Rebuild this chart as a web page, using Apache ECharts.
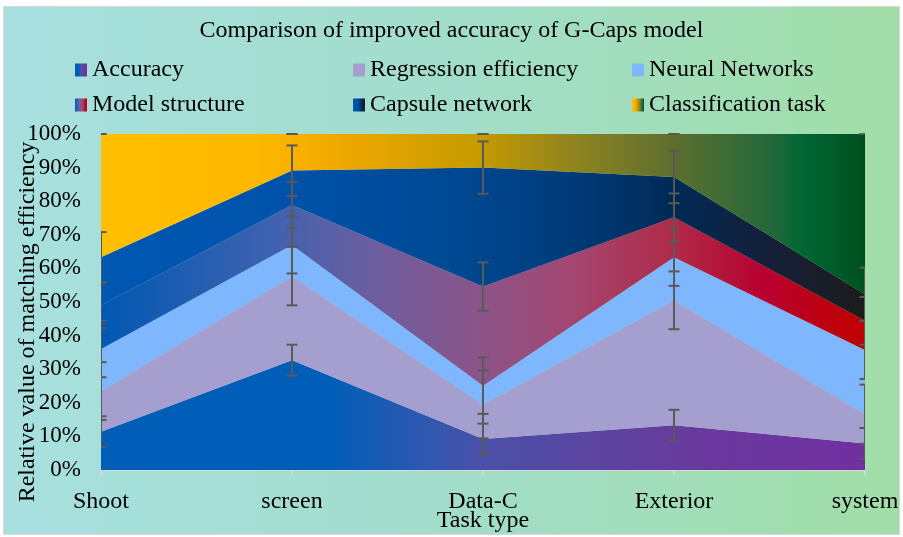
<!DOCTYPE html>
<html>
<head>
<meta charset="utf-8">
<script src="https://cdn.jsdelivr.net/npm/echarts@6/dist/echarts.min.js"></script>
<style>
  html, body { margin: 0; padding: 0; background: #fff; }
  #chart {
    position: absolute; left: 3px; top: 6px; width: 897px; height: 529px;
    border: 1px solid #d9d9d9; box-sizing: border-box;
    background: linear-gradient(90deg, #a7e0df 0%, #a2ddcb 50%, #a1dea7 100%);
  }
</style>
</head>
<body>
<div id="chart"></div>
<script>
// categories and stacked shares (%)
var categories = ['Shoot', 'screen', 'Data-C', 'Exterior', 'system'];
var accuracy = [11.4, 32.7, 9.2, 13.3, 7.9];
var regression = [12.1, 25.0, 10.3, 37.2, 8.7];
var neural = [12.5, 9.3, 5.6, 12.8, 19.1];
var modelStructure = [13.0, 11.9, 29.5, 11.9, 8.7];
var capsule = [14.3, 10.2, 35.4, 12.0, 7.9];
var classification = [36.7, 10.9, 10.0, 12.8, 47.7];

// error bar half-lengths (%)
var accuracyErr = [4.6, 4.6, 4.6, 4.6, 4.6];
var regressionErr = [8.6, 8.7, 10.1, 8.6, 8.8];
var neuralErr = [8.4, 8.5, 8.4, 8.5, 8.6];
var modelErr = [6.8, 6.9, 7.2, 7.1, 7.1];
var capsuleErr = [7.5, 7.5, 7.8, 7.8, 7.9];
var classificationErr = [0, 0, 0, 0, 0];

var yTicks = [0, 10, 20, 30, 40, 50, 60, 70, 80, 90, 100];

var FONT = "'Liberation Serif', 'Times New Roman', serif";

function grad(stops) {
  return new echarts.graphic.LinearGradient(0, 0, 1, 0,
    stops.map(function (s) { return {offset: s[0], color: s[1]}; }));
}

var fills = {
  'Accuracy': grad([[0, '#005eb8'], [0.3, '#005eb8'], [0.42, '#2e58b0'], [0.5, '#4a50a8'], [0.65, '#5c44a0'], [0.8, '#6a389e'], [1, '#7030a0']]),
  'Regression efficiency': '#a59fd0',
  'Neural Networks': '#7eb7fd',
  'Model structure': grad([[0, '#0058b2'], [0.22, '#3e62b0'], [0.35, '#6a5ea0'], [0.5, '#8c5488'], [0.62, '#a44670'], [0.75, '#b02a48'], [0.87, '#b8002e'], [1, '#c00000']]),
  'Capsule network': grad([[0, '#0058b2'], [0.25, '#0052aa'], [0.5, '#00468e'], [0.62, '#003a78'], [0.75, '#002a56'], [0.87, '#141f38'], [1, '#1c1c1c']]),
  'Classification task': grad([[0, '#ffc000'], [0.2, '#ffb800'], [0.3, '#f2aa00'], [0.5, '#c49a00'], [0.62, '#8e8420'], [0.75, '#5d6e2e'], [0.88, '#22683a'], [0.92, '#006633'], [1, '#00501f']])
};

var seriesDefs = [
  ['Accuracy', accuracy, accuracyErr],
  ['Regression efficiency', regression, regressionErr],
  ['Neural Networks', neural, neuralErr],
  ['Model structure', modelStructure, modelErr],
  ['Capsule network', capsule, capsuleErr],
  ['Classification task', classification, classificationErr]
];

var series = seriesDefs.map(function (d) {
  return {
    name: d[0],
    type: 'line',
    stack: 'total',
    data: d[1],
    showSymbol: false,
    symbol: 'none',
    lineStyle: {width: 0},
    itemStyle: {color: fills[d[0]]},
    areaStyle: {color: fills[d[0]], opacity: 1},
    silent: true
  };
});

// error bars sit on the cumulative top of each layer
var errData = [];
var running = [0, 0, 0, 0, 0];
seriesDefs.forEach(function (d) {
  for (var i = 0; i < categories.length; i++) {
    running[i] += d[1][i];
    errData.push([i, running[i], d[2][i]]);
  }
});

series.push({
  type: 'custom',
  silent: true,
  z: 10,
  data: errData,
  encode: {x: 0, y: 1},
  renderItem: function (params, api) {
    var x = api.value(0), v = api.value(1), e = api.value(2);
    var top = api.coord([x, v + e]);
    var bot = api.coord([x, v - e]);
    var hw = 5.5;
    var cs = params.coordSys;
    var st = {stroke: '#595959', lineWidth: 2};
    return {
      type: 'group',
      clipPath: {type: 'rect', shape: {x: cs.x, y: cs.y - 2, width: cs.width, height: cs.height + 4}},
      children: [
        {type: 'line', shape: {x1: top[0], y1: top[1], x2: bot[0], y2: bot[1]}, style: st},
        {type: 'line', shape: {x1: top[0] - hw, y1: top[1], x2: top[0] + hw, y2: top[1]}, style: st},
        {type: 'line', shape: {x1: bot[0] - hw, y1: bot[1], x2: bot[0] + hw, y2: bot[1]}, style: st}
      ]
    };
  }
});

function legendCol(left, names) {
  return {
    left: left, top: 46, orient: 'vertical',
    icon: 'rect', itemWidth: 12, itemHeight: 13, itemGap: 11,
    data: names,
    selectedMode: false,
    textStyle: {fontFamily: FONT, fontSize: 24, color: '#000', lineHeight: 24}
  };
}

var chart = echarts.init(document.getElementById('chart'), null, {renderer: 'canvas'});
chart.setOption({
  animation: false,
  title: {
    text: 'Comparison of improved accuracy of G-Caps model',
    left: 'center', top: 7,
    textStyle: {fontFamily: FONT, fontSize: 24, fontWeight: 'normal', color: '#000'}
  },
  legend: [
    legendCol(66, ['Accuracy', 'Model structure']),
    legendCol(344, ['Regression efficiency', 'Capsule network']),
    legendCol(623, ['Neural Networks', 'Classification task'])
  ],
  grid: {left: 97, right: 34, top: 127, bottom: 64, outerBoundsMode: 'none'},
  xAxis: {
    type: 'category',
    data: categories,
    boundaryGap: false,
    axisLine: {lineStyle: {color: '#d9d9d9', width: 1.5}},
    axisTick: {show: true, length: 5, lineStyle: {color: '#d9d9d9', width: 1.5}},
    axisLabel: {fontFamily: FONT, fontSize: 24, color: '#000', margin: 20},
    name: 'Task type',
    nameLocation: 'middle',
    nameGap: 39,
    nameMoveOverlap: false,
    nameTextStyle: {fontFamily: FONT, fontSize: 24, color: '#000'}
  },
  yAxis: {
    type: 'value',
    min: yTicks[0], max: yTicks[yTicks.length - 1], interval: 10,
    axisLine: {show: false},
    axisTick: {show: false},
    splitLine: {show: true, lineStyle: {color: '#d9d9d9'}},
    axisLabel: {fontFamily: FONT, fontSize: 23, color: '#000', margin: 20, formatter: '{value}%'}
  },
  graphic: [{
    type: 'text',
    x: 24, y: 315,
    rotation: Math.PI / 2,
    style: {
      text: 'Relative value of matching efficiency',
      font: '24px ' + FONT,
      fill: '#000',
      align: 'center',
      verticalAlign: 'middle'
    }
  }],
  series: series
});
</script>
</body>
</html>
